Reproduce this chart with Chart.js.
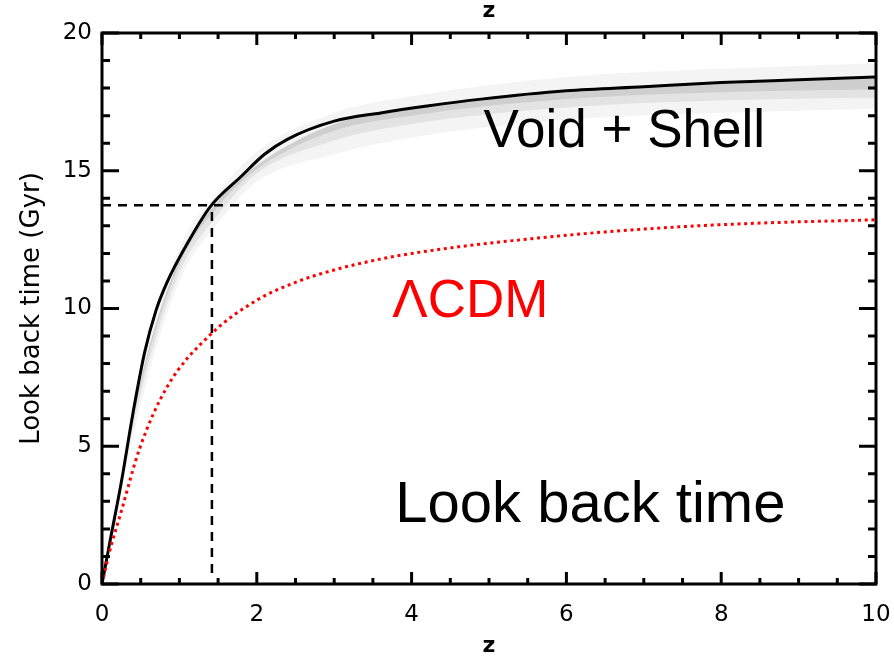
<!DOCTYPE html>
<html>
<head>
<meta charset="utf-8">
<script src="https://cdn.jsdelivr.net/npm/chart.js@4/dist/chart.umd.min.js"></script>
<style>
  html, body { margin: 0; padding: 0; background: #ffffff; }
  #wrap { width: 894px; height: 659px; }
</style>
</head>
<body>
<div id="wrap"><canvas id="c" width="894" height="659"></canvas></div>
<script>
// Redshift samples and look-back times (Gyr)
const zVoid = [0, 0.1, 0.25, 0.4, 0.55, 0.7, 0.84, 1.1, 1.4, 1.8, 2.1, 2.4, 3.0, 3.6, 4.2, 4.9, 6.0, 7.0, 8.0, 9.0, 10];
const tVoid = [0, 1.5, 3.7, 6.2, 8.4, 9.95, 10.95, 12.35, 13.7, 14.8, 15.6, 16.15, 16.8, 17.1, 17.35, 17.6, 17.9, 18.05, 18.2, 18.3, 18.4];

const zLcdm = [0, 0.1, 0.24, 0.49, 0.84, 1.4, 2.0, 2.5, 3.0, 3.7, 4.5, 5.5, 6.5, 7.5, 8.5, 10];
const tLcdm = [0, 1.2, 2.55, 4.95, 7.15, 9.05, 10.3, 10.95, 11.4, 11.85, 12.2, 12.52, 12.78, 12.97, 13.1, 13.22];

// Spread of the void + shell model family
const zBand    = [0, 0.5, 1, 1.5, 2, 3, 4, 6, 8, 10];
const outerHi  = [0, 7.6, 12.2, 14.2, 15.7, 17.1, 17.7, 18.4, 18.7, 18.9];
const outerLo  = [0, 6.5, 11.0, 13.1, 14.6, 15.6, 16.2, 16.85, 17.1, 17.25];
const innerHi  = [0, 7.4, 11.8, 13.9, 15.2, 16.7, 17.25, 17.85, 18.15, 18.35];
const innerLo  = [0, 6.9, 11.3, 13.4, 14.9, 16.1, 16.7, 17.3, 17.55, 17.65];
const coreLo   = [0, 7.2, 11.6, 13.7, 15.05, 16.45, 17.0, 17.6, 17.85, 17.95];

// Present age marker
const ageNow = 13.75;
const zCross = 1.42;

const xTicks = [0, 2, 4, 6, 8, 10];
const yTicks = [0, 5, 10, 15, 20];

const labels = [
  { text: 'Void + Shell',   z: 4.93, t: 15.87, color: '#000000', size: 53 },
  { text: '\u039BCDM',      z: 3.75, t: 9.70,  color: '#ff0000', size: 53 },
  { text: 'Look back time', z: 3.79, t: 2.25,  color: '#000000', size: 58 }
];

const pts = (xs, ys) => xs.map((x, i) => ({ x: x, y: ys[i] }));

const AXIS_FONT = '"DejaVu Sans", sans-serif';

// Inward tick marks and the plot frame, drawn from the scales
const framePlugin = {
  id: 'frame',
  afterDatasetsDraw(chart) {
    const { ctx, chartArea: a, scales } = chart;
    const xs = scales.x, ys = scales.y;
    ctx.save();
    ctx.strokeStyle = '#000';
    ctx.lineWidth = 3;
    ctx.lineCap = 'butt';
    ctx.beginPath();
    for (let v = 0; v <= 10.0001; v += 0.5) {
      const px = xs.getPixelForValue(v);
      const major = Math.abs(v / 2 - Math.round(v / 2)) < 1e-6;
      const len = major ? 12 : 6;
      ctx.moveTo(px, a.bottom); ctx.lineTo(px, a.bottom - len);
      ctx.moveTo(px, a.top);    ctx.lineTo(px, a.top + len);
    }
    for (let v = 0; v <= 20.0001; v += 1) {
      const py = ys.getPixelForValue(v);
      const major = v % 5 === 0;
      const len = major ? 17 : 8;
      ctx.moveTo(a.left, py);  ctx.lineTo(a.left + len, py);
      ctx.moveTo(a.right, py); ctx.lineTo(a.right - len, py);
    }
    ctx.stroke();
    ctx.lineJoin = 'miter';
    ctx.strokeRect(a.left, a.top, a.right - a.left, a.bottom - a.top);
    ctx.restore();
  }
};

// Text annotations placed in data coordinates
const textPlugin = {
  id: 'notes',
  afterDraw(chart) {
    const { ctx, scales } = chart;
    ctx.save();
    ctx.textAlign = 'left';
    ctx.textBaseline = 'alphabetic';
    labels.forEach(l => {
      ctx.font = l.size + 'px "Liberation Sans", Arial, sans-serif';
      ctx.fillStyle = l.color;
      ctx.fillText(l.text, scales.x.getPixelForValue(l.z), scales.y.getPixelForValue(l.t));
    });
    ctx.restore();
  }
};

const bandStyle = { showLine: true, pointRadius: 0, borderWidth: 0, borderColor: 'rgba(0,0,0,0)', cubicInterpolationMode: 'monotone' };

// Fixed box sizes for the four axes, with no extra overflow padding
const fixH = h => s => { s.height = h; s.paddingLeft = 0; s.paddingRight = 0; };
const fixW = w => s => { s.width = w; s.paddingTop = 0; s.paddingBottom = 0; };

new Chart(document.getElementById('c'), {
  type: 'line',
  data: {
    datasets: [
      Object.assign({ data: pts(zBand, outerHi), fill: '+1', backgroundColor: 'rgba(0,0,0,0.045)', order: 10 }, bandStyle),
      Object.assign({ data: pts(zBand, outerLo), fill: false, order: 10 }, bandStyle),
      Object.assign({ data: pts(zBand, innerHi), fill: '+1', backgroundColor: 'rgba(0,0,0,0.07)', order: 9 }, bandStyle),
      Object.assign({ data: pts(zBand, innerLo), fill: false, order: 9 }, bandStyle),
      Object.assign({ data: pts(zBand, innerHi), fill: '+1', backgroundColor: 'rgba(0,0,0,0.09)', order: 8 }, bandStyle),
      Object.assign({ data: pts(zBand, coreLo), fill: false, order: 8 }, bandStyle),
      {
        data: pts(zVoid, tVoid), borderColor: '#000', borderWidth: 3, pointRadius: 0,
        fill: false, cubicInterpolationMode: 'monotone', order: 2
      },
      {
        data: [{ x: 0, y: ageNow }, { x: 10, y: ageNow }], borderColor: '#000', borderWidth: 2.5,
        borderDash: [9, 7], pointRadius: 0, fill: false, order: 3
      },
      {
        data: [{ x: zCross, y: 0.4 }, { x: zCross, y: ageNow }], borderColor: '#000', borderWidth: 2.5,
        borderDash: [9, 7], pointRadius: 0, fill: false, order: 3
      },
      {
        data: pts(zLcdm, tLcdm), borderColor: '#ff0000', borderWidth: 3, borderDash: [3, 3.7],
        pointRadius: 0, fill: false, cubicInterpolationMode: 'monotone', order: 1
      }
    ]
  },
  options: {
    responsive: false,
    animation: false,
    devicePixelRatio: 1,
    layout: { padding: 0 },
    plugins: { legend: { display: false }, tooltip: { enabled: false } },
    scales: {
      x: {
        type: 'linear', position: 'bottom', min: 0, max: 10,
        afterFit: fixH(75),
        afterBuildTicks: s => { s.ticks = xTicks.map(v => ({ value: v })); },
        grid: { display: false, drawTicks: false },
        border: { display: false },
        ticks: { color: '#000', padding: 17, font: { family: AXIS_FONT, size: 23 }, maxRotation: 0 },
        title: { display: true, text: 'z', color: '#000', font: { family: AXIS_FONT, size: 22, weight: 'bold' }, padding: { bottom: 0 } }
      },
      x2: {
        type: 'linear', position: 'top', min: 0, max: 10,
        afterFit: fixH(33),
        grid: { display: false, drawTicks: false },
        border: { display: false },
        ticks: { display: false },
        title: { display: true, text: 'z', color: '#000', font: { family: AXIS_FONT, size: 22, weight: 'bold', lineHeight: 1 }, padding: { top: 0 } }
      },
      y: {
        type: 'linear', position: 'left', min: 0, max: 20,
        afterFit: fixW(102),
        afterBuildTicks: s => { s.ticks = yTicks.map(v => ({ value: v })); },
        grid: { display: false, drawTicks: false },
        border: { display: false },
        ticks: { color: '#000', padding: 10, font: { family: AXIS_FONT, size: 23 } },
        title: { display: true, text: 'Look back time (Gyr)', color: '#000', font: { family: AXIS_FONT, size: 26, lineHeight: 1 }, padding: { top: 19 } }
      },
      y2: {
        type: 'linear', position: 'right', min: 0, max: 20,
        afterFit: fixW(18),
        grid: { display: false, drawTicks: false },
        border: { display: false },
        ticks: { display: false }
      }
    }
  },
  plugins: [framePlugin, textPlugin]
});
</script>
</body>
</html>
